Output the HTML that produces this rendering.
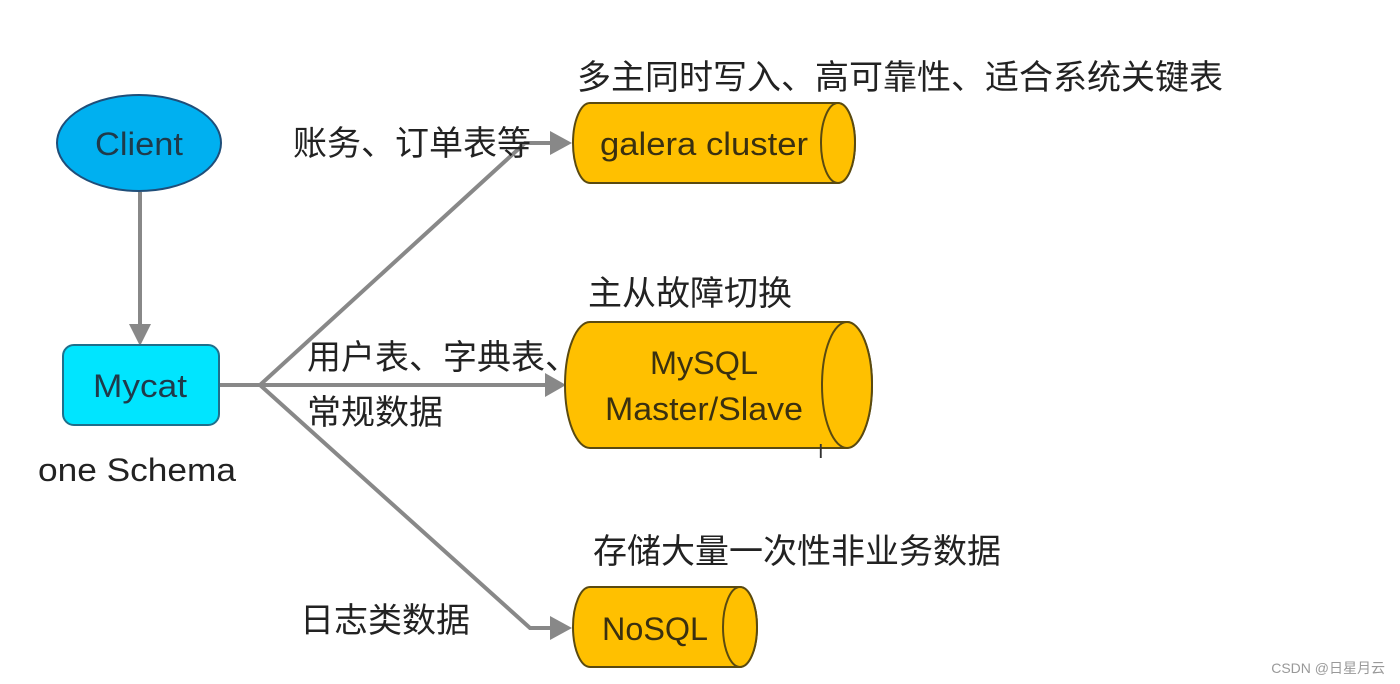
<!DOCTYPE html>
<html><head><meta charset="utf-8"><style>
html,body{margin:0;padding:0;background:#fff;width:1400px;height:684px;overflow:hidden}
text{font-family:"Liberation Sans","Noto Sans CJK SC",sans-serif}
</style></head><body>
<svg width="1400" height="684" viewBox="0 0 1400 684" xmlns="http://www.w3.org/2000/svg">
<g stroke="#888" stroke-width="4" fill="none">
<line x1="140" y1="192" x2="140" y2="326"/>
<polyline points="219,385 260,385 525,143 552,143"/>
<line x1="260" y1="385" x2="547" y2="385"/>
<polyline points="260,385 530,628 552,628"/>
</g>
<g fill="#888">
<polygon points="129,324 151,324 140,346"/>
<polygon points="550,131 550,155 572,143"/>
<polygon points="545,373 545,397 566,385"/>
<polygon points="550,616 550,640 572,628"/>
</g>
<ellipse cx="139" cy="143" rx="82" ry="48" fill="#00b0f0" stroke="#1f4e79" stroke-width="2"/>
<text x="95" y="155" font-size="32" fill="#1f3a4a" textLength="88" lengthAdjust="spacingAndGlyphs">Client</text>
<rect x="63" y="345" width="156" height="80" rx="11" fill="#00e5ff" stroke="#1f6f8b" stroke-width="2"/>
<text x="93" y="397" font-size="32" fill="#1f3a4a" textLength="94" lengthAdjust="spacingAndGlyphs">Mycat</text>
<text x="38" y="481" font-size="32" fill="#222" textLength="198" lengthAdjust="spacingAndGlyphs">one Schema</text>
<g fill="#ffc000" stroke="#5a4a10" stroke-width="2">
<path d="M590,103 L838,103 A17,40 0 0 1 838,183 L590,183 A17,40 0 0 1 590,103 Z"/>
<ellipse cx="838" cy="143" rx="17" ry="40"/>
<path d="M590,322 L847,322 A25,63 0 0 1 847,448 L590,448 A25,63 0 0 1 590,322 Z"/>
<ellipse cx="847" cy="385" rx="25" ry="63"/>
<path d="M590,587 L740,587 A17,40 0 0 1 740,667 L590,667 A17,40 0 0 1 590,587 Z"/>
<ellipse cx="740" cy="627" rx="17" ry="40"/>
</g>
<g fill="#3a3010" font-size="32" lengthAdjust="spacingAndGlyphs">
<text x="600" y="155" textLength="208" lengthAdjust="spacingAndGlyphs">galera cluster</text>
<text x="650" y="374" textLength="108" lengthAdjust="spacingAndGlyphs">MySQL</text>
<text x="605" y="420" textLength="198" lengthAdjust="spacingAndGlyphs">Master/Slave</text>
<text x="602" y="640" textLength="106" lengthAdjust="spacingAndGlyphs">NoSQL</text>
</g>
<g fill="#222" font-size="34">
<text x="577" y="89">多主同时写入、高可靠性、适合系统关键表</text>
<text x="293" y="155">账务、订单表等</text>
<text x="588" y="305">主从故障切换</text>
<text x="307" y="369">用户表、字典表、</text>
<text x="307" y="424">常规数据</text>
<text x="593" y="563">存储大量一次性非业务数据</text>
<text x="300" y="632">日志类数据</text>
</g>
<text x="818" y="458" font-size="20" fill="#333">I</text>
<text x="1385" y="673" font-size="14" fill="#999" text-anchor="end">CSDN @日星月云</text>
</svg>
</body></html>
